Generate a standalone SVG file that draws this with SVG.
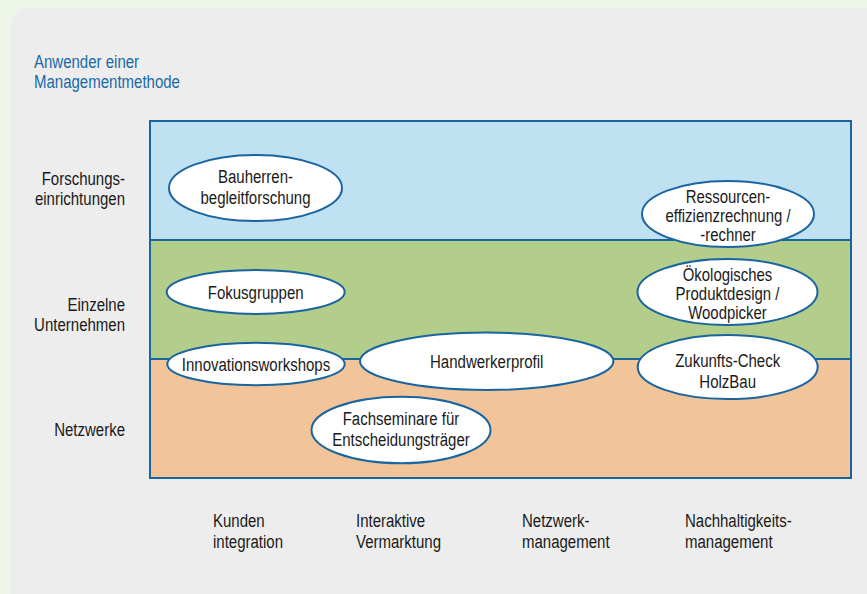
<svg xmlns="http://www.w3.org/2000/svg" width="867" height="594" viewBox="0 0 867 594">
<style>
text{font-family:"Liberation Sans",Arial,sans-serif;font-size:19px;fill:#1a1a1a}
.c{text-anchor:middle}
.r{text-anchor:end}
.s{font-size:18px}
.t{fill:#1a6aa8}
.e{fill:#ffffff;stroke:#1a64a0;stroke-width:2}
.band{stroke:none}
</style>
<rect x="0" y="0" width="867" height="594" fill="#eef5e9"/>
<rect x="11" y="8" width="880" height="620" rx="16" fill="#ededed"/>
<g id="title">
<text class="t" transform="translate(34,68) scale(0.79,1)">Anwender einer</text>
<text class="t" transform="translate(34,88) scale(0.79,1)">Managementmethode</text>
</g>
<g id="bands">
<rect class="band" x="150" y="121" width="701" height="119" fill="#c0e1f2"/>
<rect class="band" x="150" y="240" width="701" height="119" fill="#b3cd8a"/>
<rect class="band" x="150" y="359" width="701" height="119" fill="#f1c49a"/>
<line x1="150" y1="240" x2="851" y2="240" stroke="#1a64a0" stroke-width="2"/>
<line x1="150" y1="359" x2="851" y2="359" stroke="#1a64a0" stroke-width="2"/>
<rect x="150" y="121" width="701" height="357" fill="none" stroke="#1a64a0" stroke-width="2"/>
</g>
<g id="row-labels">
<text class="r" transform="translate(125,185) scale(0.79,1)">Forschungs-</text>
<text class="r" transform="translate(125,205) scale(0.79,1)">einrichtungen</text>
<text class="r" transform="translate(125,311) scale(0.79,1)">Einzelne</text>
<text class="r" transform="translate(125,331) scale(0.79,1)">Unternehmen</text>
<text class="r" transform="translate(125,436) scale(0.79,1)">Netzwerke</text>
</g>
<g id="col-labels">
<text transform="translate(213,527) scale(0.79,1)">Kunden</text>
<text transform="translate(213,548) scale(0.79,1)">integration</text>
<text transform="translate(356,527) scale(0.79,1)">Interaktive</text>
<text transform="translate(356,548) scale(0.79,1)">Vermarktung</text>
<text transform="translate(522,527) scale(0.79,1)">Netzwerk-</text>
<text transform="translate(522,548) scale(0.79,1)">management</text>
<text transform="translate(685,527) scale(0.79,1)">Nachhaltigkeits-</text>
<text transform="translate(685,548) scale(0.79,1)">management</text>
</g>
<g id="connectors"></g>
<g id="n-bauherren">
<ellipse class="e" cx="255.5" cy="188" rx="86.5" ry="33"/>
<text class="c" transform="translate(255.5,183) scale(0.79,1)">Bauherren-</text>
<text class="c" transform="translate(255.5,204) scale(0.79,1)">begleitforschung</text>
</g>
<g id="n-ressourcen">
<ellipse class="e" cx="728" cy="214" rx="86" ry="33"/>
<text class="c s" transform="translate(728,203) scale(0.83,1)">Ressourcen-</text>
<text class="c s" transform="translate(728,222) scale(0.83,1)">effizienzrechnung /</text>
<text class="c s" transform="translate(728,241) scale(0.83,1)">-rechner</text>
</g>
<g id="n-fokus">
<ellipse class="e" cx="255.7" cy="292" rx="89" ry="22"/>
<text class="c" transform="translate(255.7,299) scale(0.79,1)">Fokusgruppen</text>
</g>
<g id="n-oeko">
<ellipse class="e" cx="727.5" cy="292" rx="90" ry="33"/>
<text class="c s" transform="translate(727.5,281) scale(0.83,1)">Ökologisches</text>
<text class="c s" transform="translate(727.5,300) scale(0.83,1)">Produktdesign /</text>
<text class="c s" transform="translate(727.5,319) scale(0.83,1)">Woodpicker</text>
</g>
<g id="n-innovation">
<ellipse class="e" cx="256" cy="364" rx="88.7" ry="21.3"/>
<text class="c" transform="translate(256,371) scale(0.79,1)">Innovationsworkshops</text>
</g>
<g id="n-handwerker">
<ellipse class="e" cx="486.7" cy="361.3" rx="126.7" ry="28.7" stroke-width="3"/>
<text class="c" transform="translate(486.7,368) scale(0.79,1)">Handwerkerprofil</text>
</g>
<g id="n-zukunft">
<ellipse class="e" cx="727.7" cy="367" rx="90" ry="32"/>
<text class="c" transform="translate(727.7,367) scale(0.79,1)">Zukunfts-Check</text>
<text class="c" transform="translate(727.7,388) scale(0.79,1)">HolzBau</text>
</g>
<g id="n-fachseminare">
<ellipse class="e" cx="401" cy="430" rx="89.5" ry="33.3"/>
<text class="c" transform="translate(401,425) scale(0.79,1)">Fachseminare für</text>
<text class="c" transform="translate(401,446) scale(0.79,1)">Entscheidungsträger</text>
</g>
</svg>
